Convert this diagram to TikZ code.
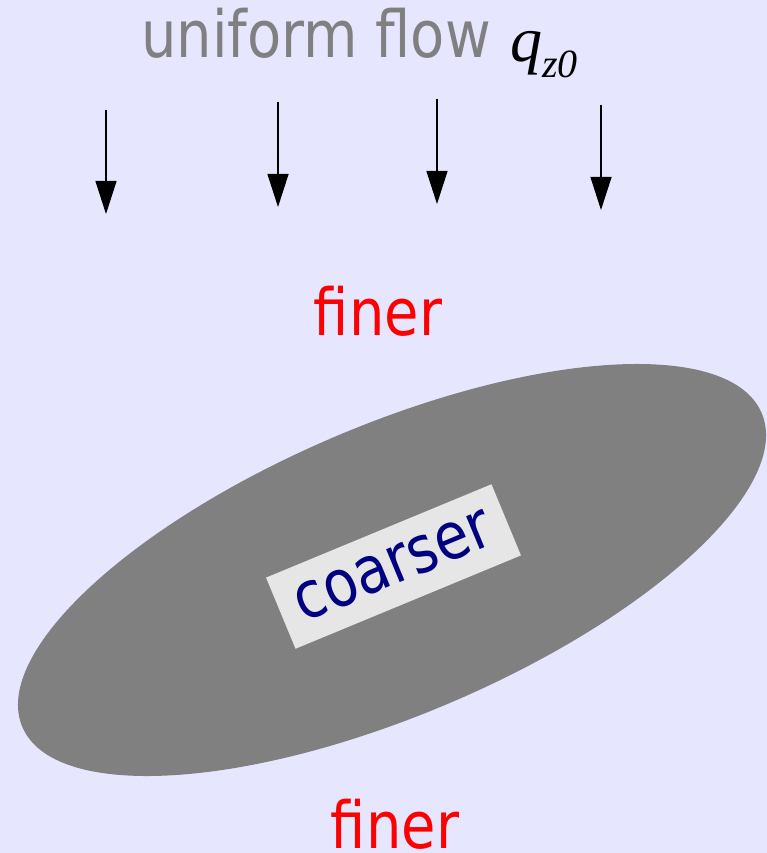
\documentclass[tikz,border=0pt]{standalone}
\usepackage{fontspec}
\setmainfont[FakeStretch=0.86]{DejaVu Sans}
\newfontfamily\qfont{Liberation Serif}
\usetikzlibrary{arrows.meta}
\definecolor{bg}{RGB}{230,230,255}
\definecolor{shapegray}{RGB}{128,128,128}
\definecolor{boxbg}{RGB}{230,230,230}
\definecolor{navyblue}{RGB}{0,0,128}
\tikzset{
  flowarrow/.style={draw=black, line width=1.2pt, -{Triangle[length=33pt,width=21pt]}},
  bigtext/.style={inner sep=0pt, font=\fontsize{65}{65}\selectfont},
}
\begin{document}
\begin{tikzpicture}[x=1pt,y=-1pt]
\fill[bg] (0,0) rectangle (767,853);
\useasboundingbox (0,0) rectangle (767,853);
% body
\fill[shapegray, rotate around={23:(392,570)}] (392,570) ellipse [x radius=401.6, y radius=145];
\node[bigtext, fill=boxbg, text=navyblue, rotate=22.5, minimum width=244pt, minimum height=77pt] (coarse) at (393.5,566.5) {coarser};
% title
\node[bigtext, anchor=base west, text=shapegray] (title) at (141,58) {uniform flow};
\node[anchor=base west, inner sep=0pt] (q) at (510,62) {\qfont\itshape\fontsize{64}{64}\selectfont q\raisebox{-16pt}{\fontsize{40}{40}\selectfont z0}};
% labels
\node[bigtext, anchor=base, text=red] (fineTop) at (378,335) {finer};
\node[bigtext, anchor=base, text=red] (fineBot) at (395,848) {finer};
% arrows
\coordinate (a1s) at (106,110); \coordinate (a1e) at (106,214);
\coordinate (a2s) at (278,102); \coordinate (a2e) at (278,207);
\coordinate (a3s) at (437,99);  \coordinate (a3e) at (437,204);
\coordinate (a4s) at (601,105); \coordinate (a4e) at (601,210);
\draw[flowarrow] (a1s) -- (a1e);
\draw[flowarrow] (a2s) -- (a2e);
\draw[flowarrow] (a3s) -- (a3e);
\draw[flowarrow] (a4s) -- (a4e);
\end{tikzpicture}
\end{document}
